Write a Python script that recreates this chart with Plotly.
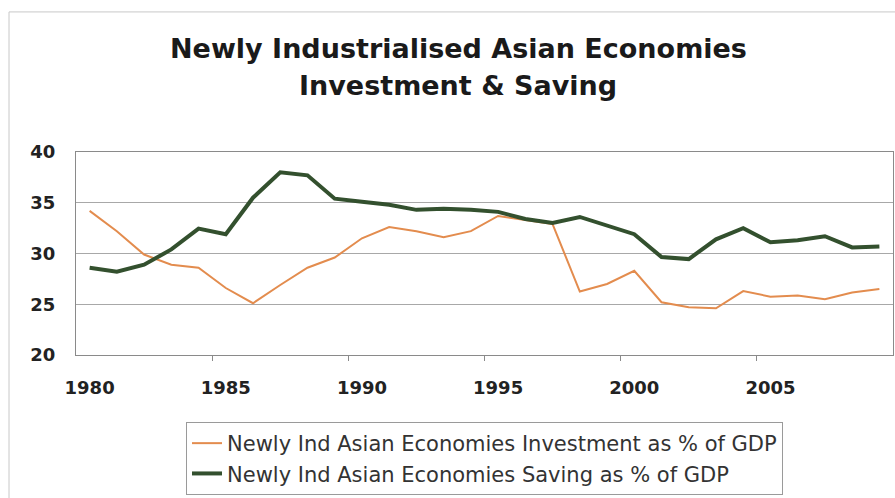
import plotly.graph_objects as go

years = list(range(1980, 2010))

investment = [34.2, 32.2, 29.9, 28.9, 28.6, 26.6, 25.1, 26.9, 28.6, 29.6,
              31.5, 32.6, 32.2, 31.6, 32.2, 33.7, 33.3, 32.9, 26.25, 27.0,
              28.3, 25.2, 24.7, 24.6, 26.3, 25.75, 25.85, 25.5, 26.15, 26.5]

saving = [28.6, 28.2, 28.9, 30.4, 32.45, 31.9, 35.5, 38.0, 37.7, 35.4,
          35.1, 34.8, 34.3, 34.4, 34.3, 34.1, 33.4, 33.0, 33.6, 32.7,
          31.9, 29.65, 29.45, 31.4, 32.5, 31.1, 31.3, 31.7, 30.6, 30.7]

x_ticks = [1980, 1985, 1990, 1995, 2000, 2005]
y_ticks = [20, 25, 30, 35, 40]

title_lines = ["Newly Industrialised Asian Economies", "Investment & Saving"]
names = ["Newly Ind Asian Economies Investment as % of GDP",
         "Newly Ind Asian Economies Saving as % of GDP"]

FONT = "DejaVu Sans, Verdana, sans-serif"

fig = go.Figure()
fig.add_trace(go.Scatter(x=years, y=investment, mode="lines", name=names[0],
                         legendgroup="inv",
                         line=dict(color="#e38c4e", width=2)))
fig.add_trace(go.Scatter(x=years, y=saving, mode="lines", name=names[1],
                         legendgroup="sav",
                         line=dict(color="#33502e", width=4)))

fig.update_layout(
    width=895, height=498,
    margin=dict(l=76, r=2, t=152, b=143, autoexpand=False),
    paper_bgcolor="white", plot_bgcolor="white",
    font=dict(family=FONT, color="#222"),
    showlegend=True,
    legend=dict(x=0.5, xanchor="center", y=-0.33, yanchor="top",
                bordercolor="#9a9a9a", borderwidth=1,
                font=dict(size=21, family=FONT, color="#333"),
                traceorder="grouped", tracegroupgap=0),
    xaxis=dict(range=[1979.5, 2009.5], tickvals=x_ticks,
               ticktext=[str(v) for v in x_ticks],
               tickfont=dict(size=18, family=FONT, color="#222", weight="bold"),
               showgrid=False, zeroline=False,
               showline=True, linecolor="#8a8a8a", linewidth=1, mirror=True,
               ticks="", ticklabelstandoff=16,
               minor=dict(tickvals=[1984.5, 1989.5, 1994.5, 1999.5, 2004.5],
                          ticks="outside", ticklen=5, tickcolor="#8a8a8a")),
    yaxis=dict(range=[20, 40], tickvals=y_ticks,
               tickfont=dict(size=18, family=FONT, color="#222", weight="bold"),
               showgrid=True, gridcolor="#a8a8a8", gridwidth=1,
               zeroline=False, showline=True, linecolor="#8a8a8a",
               linewidth=1, mirror=True, ticks="", ticklabelstandoff=16),
)

title_y = [48, 85]
for line, ty in zip(title_lines, title_y):
    fig.add_annotation(text=f"<b>{line}</b>", xref="paper", yref="paper",
                       x=0.468, y=1.0, yanchor="middle", showarrow=False,
                       yshift=152 - ty,
                       font=dict(size=27, family=FONT, color="#1a1a1a"))

# chart-area frame
fig.add_shape(type="rect", xref="paper", yref="paper",
              x0=-0.082, x1=1.01, y0=-0.72, y1=1.69,
              line=dict(color="#c8c8c8", width=1))

fig.write_html("out.html")
